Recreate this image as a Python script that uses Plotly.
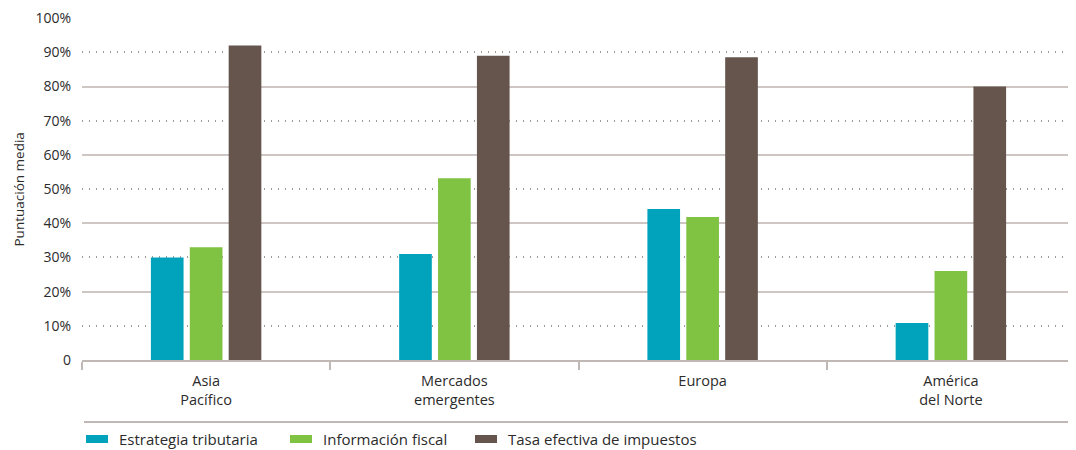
import plotly.graph_objects as go

categories = ["Asia<br>Pacífico", "Mercados<br>emergentes", "Europa", "América<br>del Norte"]
estrategia = [0.30, 0.31, 0.442, 0.108]
informacion = [0.33, 0.532, 0.418, 0.26]
tasa = [0.92, 0.89, 0.886, 0.80]
series_names = ["Estrategia tributaria", "Información fiscal", "Tasa efectiva de impuestos"]
colors = ["#00A3BB", "#80C242", "#65554D"]
tick_vals = [0, 0.1, 0.2, 0.3, 0.4, 0.5, 0.6, 0.7, 0.8, 0.9, 1.0]
tick_text = ["0", "10%", "20%", "30%", "40%", "50%", "60%", "70%", "80%", "90%", "100%"]
y_title = "Puntuación media"

font_family = "Open Sans, Noto Sans, sans-serif"
text_color = "#2b2b2b"

# the page body adds an 8px offset, so the figure is sized to fill the window from there
OFF = 8
W, H = 1076 - OFF, 450 - OFF
PL, PT, PB = 82, 18, 360  # plot area edges in window pixels
PW, PH = 1075 - PL, PB - PT
Y_RANGE = [0, 1.0005]

fig = go.Figure()
for name, vals, c in zip(series_names, [estrategia, informacion, tasa], colors):
    fig.add_trace(go.Bar(x=categories, y=vals, name=name, marker=dict(color=c, line=dict(width=0))))
# empty helper trace so the solid-grid overlay axis is drawn
fig.add_trace(go.Scatter(x=[], y=[], yaxis="y2", showlegend=False, hoverinfo="skip"))

fig.update_layout(
    width=W, height=H,
    margin=dict(l=PL - OFF, r=1076 - 1075, t=PT - OFF, b=450 - PB, pad=0),
    paper_bgcolor="white", plot_bgcolor="white",
    barmode="group", bargap=0.53, bargroupgap=0.16,
    font=dict(family=font_family, size=13, color=text_color),
    showlegend=False,
    xaxis=dict(showline=True, linecolor="#bfb8b5", linewidth=2, ticks="outside",
               tickson="boundaries", ticklen=8, tickcolor="#bfb8b5", tickwidth=2,
               tickfont=dict(size=14.5, color=text_color), showgrid=False, automargin=False,
               ticklabelstandoff=7),
    yaxis=dict(range=Y_RANGE, tickmode="array", tickvals=tick_vals, ticktext=tick_text,
               showgrid=True, griddash="1px,6px", gridcolor="#9e9a98", gridwidth=1.5,
               tickfont=dict(size=14, color=text_color), ticks="", zeroline=False,
               automargin=False, ticklabelstandoff=10),
    yaxis2=dict(range=Y_RANGE, overlaying="y", side="left", tickmode="linear", tick0=0, dtick=0.2,
                showgrid=True, gridcolor="#cdc6c3", gridwidth=1.5, showticklabels=False,
                ticks="", zeroline=False, showline=False, automargin=False),
)

def px_x(px):
    return (px - PL) / PW

def px_y(py):
    return (PB - py) / PH

# y-axis title
fig.add_annotation(xref="paper", yref="paper", x=px_x(18.5), y=px_y(190), text=y_title,
                   textangle=-90, showarrow=False, xanchor="center", yanchor="middle",
                   font=dict(size=13.5, color=text_color))

# legend drawn as swatches + labels in paper space
legend_x_px = [86, 290, 475]
for name, c, px in zip(series_names, colors, legend_x_px):
    fig.add_shape(type="rect", xref="paper", yref="paper", x0=px_x(px), x1=px_x(px + 22),
                  y0=px_y(443), y1=px_y(435), line=dict(width=0), fillcolor=c)
    fig.add_annotation(xref="paper", yref="paper", x=px_x(px + 31), y=px_y(438.5),
                       text=name, showarrow=False, xanchor="left", yanchor="middle",
                       font=dict(size=15, color=text_color))

fig.add_shape(type="line", xref="paper", yref="paper", x0=px_x(84), x1=1.0, y0=px_y(422), y1=px_y(422),
              line=dict(color="#bfb8b5", width=2))

fig.write_html("out.html")
